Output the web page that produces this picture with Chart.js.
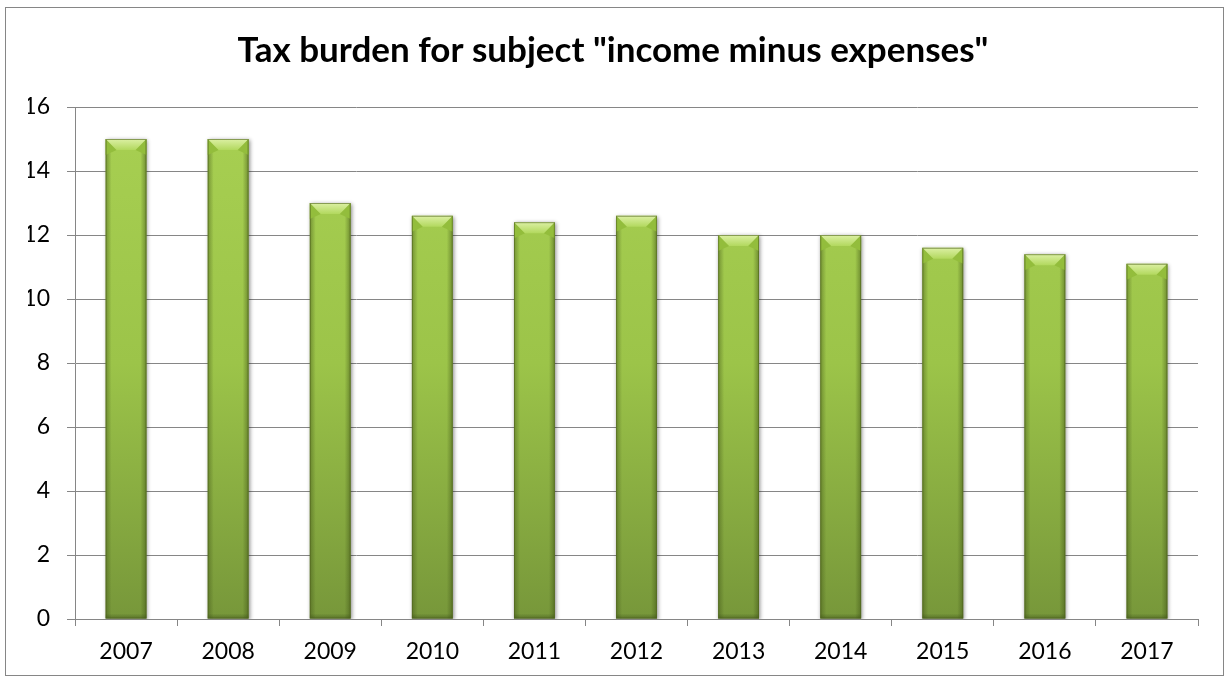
<!DOCTYPE html>
<html>
<head>
<meta charset="utf-8">
<title>Tax burden</title>
<script src="https://cdn.jsdelivr.net/npm/chart.js@4/dist/chart.umd.min.js"></script>
<style>
  html, body { margin: 0; padding: 0; background: #fff; }
  #wrap { width: 1229px; height: 679px; }
</style>
</head>
<body>
<div id="wrap"><canvas id="chart" width="1229" height="679"></canvas></div>
<script>
var years = ['2007', '2008', '2009', '2010', '2011', '2012', '2013', '2014', '2015', '2016', '2017'];
var burden = [15, 15, 13, 12.6, 12.4, 12.6, 12, 12, 11.6, 11.4, 11.1];
var yTicks = [0, 2, 4, 6, 8, 10, 12, 14, 16];

var FONT = 'Lato, "Open Sans", "Liberation Sans", sans-serif';
var GRID = '#868686';

// outer frame around the whole chart
var framePlugin = {
  id: 'frame',
  beforeDraw: function(chart) {
    var ctx = chart.ctx;
    ctx.save();
    ctx.fillStyle = '#fff';
    ctx.fillRect(0, 0, chart.width, chart.height);
    ctx.strokeStyle = GRID;
    ctx.lineWidth = 1;
    ctx.strokeRect(5.5, 7.5, chart.width - 11, chart.height - 11);
    ctx.restore();
  }
};

// soft shadow under the bars
var shadowPlugin = {
  id: 'barShadow',
  beforeDatasetsDraw: function(chart) {
    var ctx = chart.ctx;
    ctx.save();
    ctx.shadowColor = 'rgba(0,0,0,0.45)';
    ctx.shadowBlur = 4;
    ctx.shadowOffsetX = 1;
    ctx.shadowOffsetY = 1;
  },
  afterDatasetsDraw: function(chart) {
    chart.ctx.restore();
  }
};

// bevel on top and edges of each bar
var bevelPlugin = {
  id: 'bevel',
  afterDatasetsDraw: function(chart) {
    var ctx = chart.ctx;
    var meta = chart.getDatasetMeta(0);
    meta.data.forEach(function(bar) {
      var p = bar.getProps(['x', 'y', 'width', 'base'], true);
      var l = p.x - p.width / 2, r = p.x + p.width / 2, t = p.y, b = p.base;
      var bv = 11, sw = 4;
      ctx.save();

      // left and right edge shading
      var gl = ctx.createLinearGradient(l, 0, l + sw + 2, 0);
      gl.addColorStop(0, 'rgba(60,80,20,0.45)');
      gl.addColorStop(1, 'rgba(60,80,20,0)');
      ctx.fillStyle = gl;
      ctx.fillRect(l, t, sw + 2, b - t);
      var gr = ctx.createLinearGradient(r, 0, r - sw - 2, 0);
      gr.addColorStop(0, 'rgba(60,80,20,0.5)');
      gr.addColorStop(1, 'rgba(60,80,20,0)');
      ctx.fillStyle = gr;
      ctx.fillRect(r - sw - 2, t, sw + 2, b - t);

      // bottom edge
      var gb = ctx.createLinearGradient(0, b, 0, b - 5);
      gb.addColorStop(0, 'rgba(50,70,20,0.45)');
      gb.addColorStop(1, 'rgba(50,70,20,0)');
      ctx.fillStyle = gb;
      ctx.fillRect(l, b - 5, p.width, 5);

      // side bevel corners
      ctx.fillStyle = '#93bd3c';
      ctx.beginPath();
      ctx.moveTo(l, t); ctx.lineTo(l + bv, t + bv); ctx.lineTo(l, t + bv + 5); ctx.closePath();
      ctx.fill();
      ctx.beginPath();
      ctx.moveTo(r, t); ctx.lineTo(r - bv, t + bv); ctx.lineTo(r, t + bv + 5); ctx.closePath();
      ctx.fill();

      // top face
      var gt = ctx.createLinearGradient(0, t, 0, t + bv);
      gt.addColorStop(0, '#dcf0a4');
      gt.addColorStop(1, '#b2d85e');
      ctx.fillStyle = gt;
      ctx.beginPath();
      ctx.moveTo(l, t); ctx.lineTo(r, t); ctx.lineTo(r - bv, t + bv); ctx.lineTo(l + bv, t + bv); ctx.closePath();
      ctx.fill();

      ctx.strokeStyle = 'rgba(80,100,30,0.6)';
      ctx.lineWidth = 1;
      ctx.strokeRect(l + 0.5, t + 0.5, p.width - 1, b - t - 1);
      ctx.restore();
    });
  }
};

function barFill(context) {
  var area = context.chart.chartArea;
  if (!area) return '#a0c84a';
  var g = context.chart.ctx.createLinearGradient(0, area.top, 0, area.bottom);
  g.addColorStop(0, '#a8d052');
  g.addColorStop(0.5, '#9cc449');
  g.addColorStop(1, '#77973a');
  return g;
}

new Chart(document.getElementById('chart'), {
  type: 'bar',
  data: {
    labels: years,
    datasets: [{
      data: burden,
      backgroundColor: barFill,
      borderWidth: 0,
      categoryPercentage: 1,
      barPercentage: 0.4
    }]
  },
  options: {
    responsive: false,
    animation: false,
    events: [],
    layout: { padding: { left: 28, right: 31, top: 0, bottom: 4 } },
    plugins: {
      legend: { display: false },
      tooltip: { enabled: false },
      title: {
        display: true,
        text: 'Tax burden for subject "income minus expenses"',
        color: '#000',
        font: { family: FONT, size: 35, weight: 'bold' },
        padding: { top: 30, bottom: 35 }
      }
    },
    scales: {
      x: {
        offset: true,
        grid: { offset: true, drawOnChartArea: false, drawTicks: true, tickLength: 7, color: GRID },
        border: { color: GRID, width: 1 },
        ticks: { color: '#000', font: { family: FONT, size: 23 }, padding: 12, maxRotation: 0 },
        afterFit: function(scale) { scale.height = 56; }
      },
      y: {
        min: 0,
        max: 16,
        afterBuildTicks: function(scale) {
          scale.ticks = yTicks.map(function(v) { return { value: v }; });
        },
        grid: { color: GRID, tickLength: 8 },
        border: { color: GRID, width: 1 },
        ticks: { color: '#000', font: { family: FONT, size: 23 }, padding: 17 },
        afterFit: function(scale) { scale.width = 47; }
      }
    }
  },
  plugins: [framePlugin, shadowPlugin, bevelPlugin]
});
</script>
</body>
</html>
